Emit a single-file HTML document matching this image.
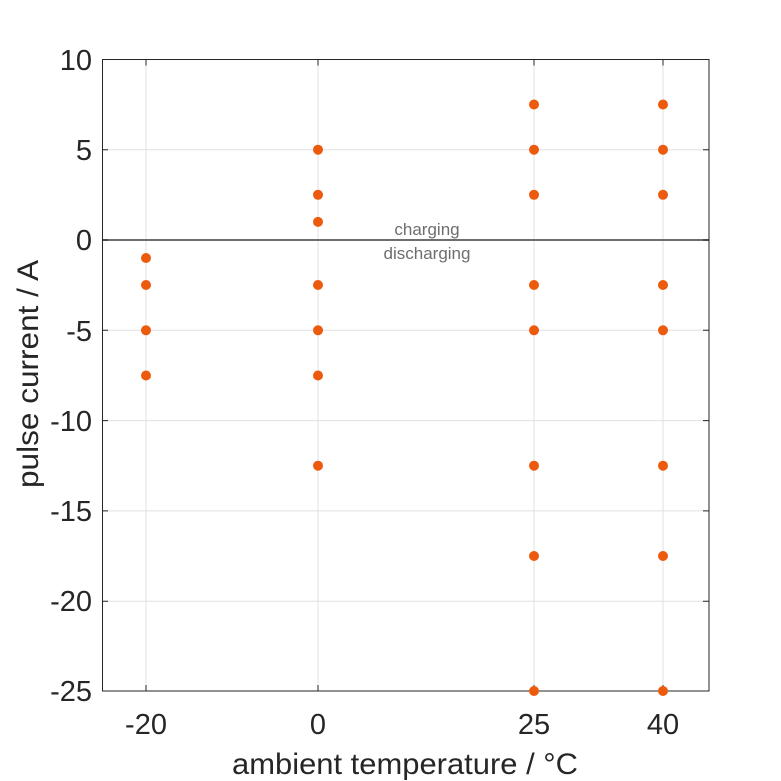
<!DOCTYPE html>
<html><head><style>body{margin:0;background:#fff}svg{display:block}</style></head><body>
<svg width="781" height="781" xmlns="http://www.w3.org/2000/svg" font-family="Liberation Sans, sans-serif">
<rect width="781" height="781" fill="#fff"/>
<g stroke="#e0e0e0" stroke-width="1">
<line x1="146" y1="59.5" x2="146" y2="691"/><line x1="318" y1="59.5" x2="318" y2="691"/>
<line x1="534" y1="59.5" x2="534" y2="691"/><line x1="663" y1="59.5" x2="663" y2="691"/>
<line x1="102" y1="149.7" x2="709" y2="149.7"/><line x1="102" y1="330.3" x2="709" y2="330.3"/>
<line x1="102" y1="420.6" x2="709" y2="420.6"/><line x1="102" y1="510.9" x2="709" y2="510.9"/>
<line x1="102" y1="601.2" x2="709" y2="601.2"/>
</g>
<line x1="102" y1="240" x2="709" y2="240" stroke="#6e6e6e" stroke-width="2"/>
<rect x="102.5" y="59.5" width="606.5" height="631.5" fill="none" stroke="#262626" stroke-width="1"/>
<g stroke="#262626" stroke-width="1">
<path d="M146 59.5v6M318 59.5v6M534 59.5v6M663 59.5v6M146 691v-6M318 691v-6M534 691v-6M663 691v-6"/>
<path d="M102 59.5h6M102 149.7h6M102 240h6M102 330.3h6M102 420.6h6M102 510.9h6M102 601.2h6M102 691h6"/>
<path d="M709 59.5h-6M709 149.7h-6M709 240h-6M709 330.3h-6M709 420.6h-6M709 510.9h-6M709 601.2h-6M709 691h-6"/>
</g>
<g font-size="29" fill="#262626" text-anchor="end">
<text x="92" y="70">10</text><text x="92" y="160">5</text><text x="92" y="250">0</text>
<text x="92" y="341">-5</text><text x="92" y="431">-10</text><text x="92" y="521">-15</text>
<text x="92" y="611">-20</text><text x="92" y="701">-25</text>
</g>
<g font-size="29" fill="#262626" text-anchor="middle">
<text x="146" y="734">-20</text><text x="318" y="734">0</text><text x="534" y="734">25</text><text x="663" y="734">40</text>
</g>
<g font-size="30" fill="#262626">
<text x="232" y="774" textLength="346" lengthAdjust="spacingAndGlyphs">ambient temperature / °C</text>
<text transform="translate(38,488) rotate(-90)" textLength="228" lengthAdjust="spacingAndGlyphs">pulse current / A</text>
</g>
<g font-size="17" fill="#6e6e6e" text-anchor="middle">
<text x="427" y="235">charging</text><text x="427" y="259">discharging</text>
</g>
<g fill="#ec5a0e">
<circle cx="146" cy="258" r="5"/><circle cx="146" cy="285" r="5"/><circle cx="146" cy="330.3" r="5"/><circle cx="146" cy="375.5" r="5"/>
<circle cx="318" cy="149.7" r="5"/><circle cx="318" cy="194.8" r="5"/><circle cx="318" cy="221.9" r="5"/><circle cx="318" cy="285" r="5"/><circle cx="318" cy="330.3" r="5"/><circle cx="318" cy="375.5" r="5"/><circle cx="318" cy="465.7" r="5"/>
<circle cx="534" cy="104.5" r="5"/><circle cx="534" cy="149.7" r="5"/><circle cx="534" cy="194.8" r="5"/><circle cx="534" cy="285" r="5"/><circle cx="534" cy="330.3" r="5"/><circle cx="534" cy="465.7" r="5"/><circle cx="534" cy="556" r="5"/><circle cx="534" cy="691" r="5"/>
<circle cx="663" cy="104.5" r="5"/><circle cx="663" cy="149.7" r="5"/><circle cx="663" cy="194.8" r="5"/><circle cx="663" cy="285" r="5"/><circle cx="663" cy="330.3" r="5"/><circle cx="663" cy="465.7" r="5"/><circle cx="663" cy="556" r="5"/><circle cx="663" cy="691" r="5"/>
</g>
</svg>
</body></html>
